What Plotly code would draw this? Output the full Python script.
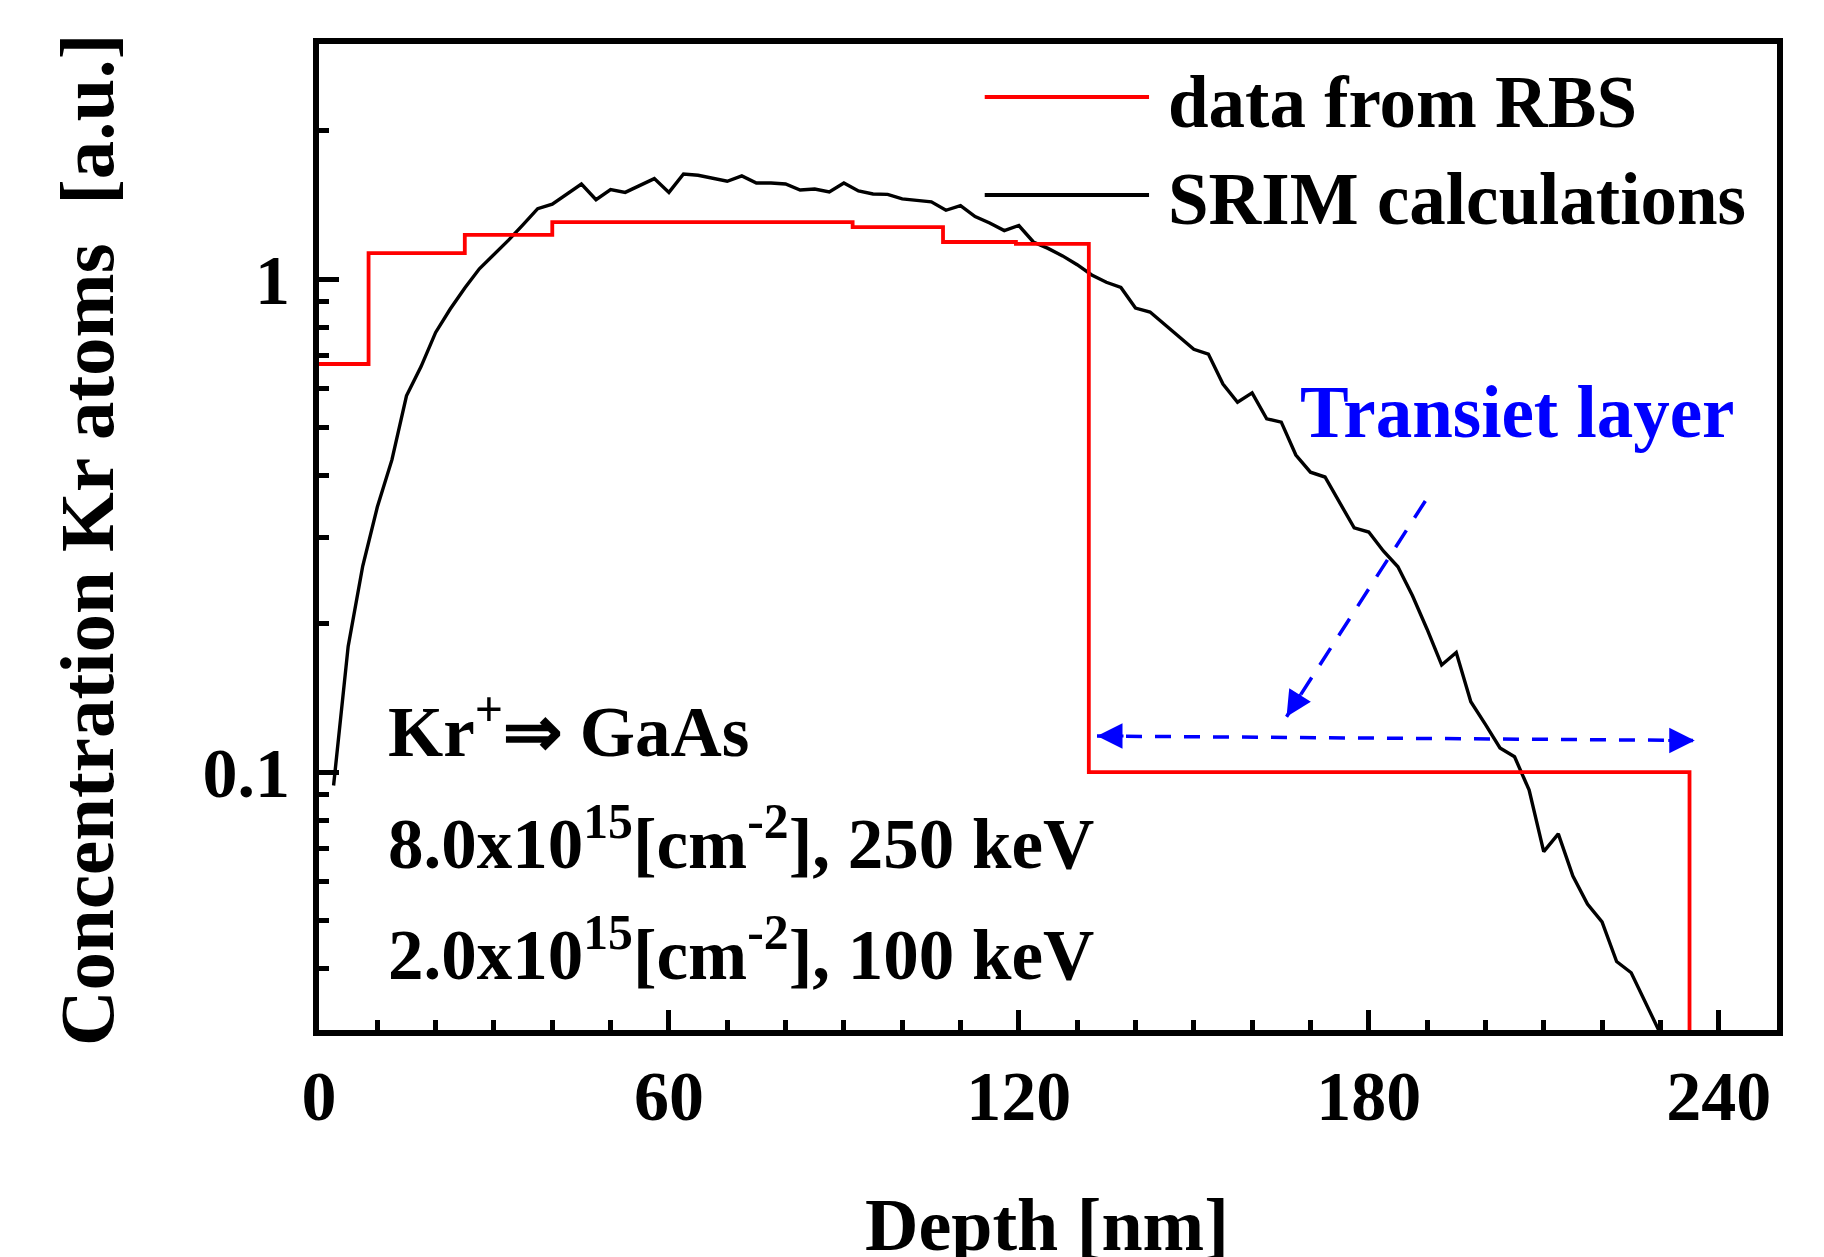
import numpy as np
import plotly.graph_objects as go

# ---------------- data ----------------
# SRIM calculated Kr depth profile
srim_depth = [2.5, 5, 7.5, 10, 12.5, 15, 17.5, 20, 22.5, 25, 27.5, 30, 32.5, 35, 37.5, 40,
              42.5, 45, 47.5, 50, 52.5, 55, 57.5, 60, 62.5, 65, 67.5, 70, 72.5, 75, 77.5, 80,
              82.5, 85, 87.5, 90, 92.5, 95, 97.5, 100, 102.5, 105, 107.5, 110, 112.5, 115,
              117.5, 120, 122.5, 125, 127.5, 130, 132.5, 135, 137.5, 140, 142.5, 145, 147.5,
              150, 152.5, 155, 157.5, 160, 162.5, 165, 167.5, 170, 172.5, 175, 177.5, 180,
              182.5, 185, 187.5, 190, 192.5, 195, 197.5, 200, 202.5, 205, 207.5, 210, 212.5,
              215, 217.5, 220, 222.5, 225, 227.5, 230]
srim_conc = [0.094, 0.18, 0.262, 0.345, 0.43, 0.58, 0.665, 0.78, 0.87, 0.96, 1.05, 1.12, 1.20,
             1.29, 1.39, 1.42, 1.49, 1.56, 1.45, 1.52, 1.50, 1.55, 1.60, 1.50, 1.635, 1.625,
             1.60, 1.58, 1.62, 1.567, 1.567, 1.56, 1.517, 1.524, 1.503, 1.567, 1.51, 1.489,
             1.486, 1.455, 1.445, 1.435, 1.38, 1.41, 1.34, 1.30, 1.255, 1.285, 1.19, 1.155,
             1.115, 1.07, 1.02, 0.986, 0.962, 0.874, 0.858, 0.81, 0.761, 0.721, 0.705, 0.613,
             0.563, 0.588, 0.521, 0.513, 0.44, 0.406, 0.397, 0.352, 0.313, 0.307, 0.281,
             0.261, 0.228, 0.195, 0.165, 0.175, 0.139, 0.125, 0.112, 0.1075, 0.092, 0.069,
             0.075, 0.0616, 0.054, 0.0497, 0.0413, 0.0392, 0.034, 0.0295]

# RBS step profile: layer boundaries and concentration in each layer
rbs_edges = [0, 8.5, 25, 40, 91.5, 107, 119.5, 132, 235]
rbs_conc = [0.673, 1.13, 1.23, 1.305, 1.276, 1.19, 1.18, 0.1]
rbs_floor = 0.01  # profile ends (drops out of the axis range)

# transient-layer arrows (depth, concentration)
arrow_h_x = [133.4, 235.9]
arrow_h_y = [0.1184, 0.116]
arrow_d_x = [189.7, 165.9]
arrow_d_y = [0.355, 0.1296]

x_ticks = [0, 60, 120, 180, 240]
x_minor = [v for v in range(10, 250, 10) if v % 60 != 0]
y_ticks = [0.1, 1]
y_ticktext = ["0.1", "1"]
y_minor = [0.04, 0.05, 0.06, 0.07, 0.08, 0.09, 0.2, 0.3, 0.4, 0.5, 0.6, 0.7, 0.8, 0.9, 2]

# ---------------- figure ----------------
FONT = "Liberation Serif, Times New Roman, serif"
BLUE = "#0000ff"

step_x = rbs_edges + [rbs_edges[-1]]
step_y = rbs_conc + [rbs_conc[-1], rbs_floor]

fig = go.Figure()
fig.add_trace(go.Scatter(x=srim_depth, y=srim_conc, mode="lines", name="SRIM calculations",
                         line=dict(color="black", width=3.4), showlegend=False))
fig.add_trace(go.Scatter(x=step_x, y=step_y, mode="lines", name="data from RBS",
                         line=dict(color="#ff0000", width=3.8, shape="hv"), showlegend=False))
fig.add_trace(go.Scatter(x=arrow_h_x, y=arrow_h_y, mode="lines", showlegend=False,
                         line=dict(color=BLUE, width=3.5, dash="16px,13px")))
fig.add_trace(go.Scatter(x=arrow_d_x, y=arrow_d_y, mode="lines", showlegend=False,
                         line=dict(color=BLUE, width=3.5, dash="20px,15px")))

ann = []
# arrow heads
head = dict(showarrow=True, arrowhead=2, arrowsize=1.7, arrowwidth=3, arrowcolor=BLUE,
            text="", xref="x", yref="y")
ann.append(dict(head, x=arrow_h_x[0], y=np.log10(arrow_h_y[0]), ax=28, ay=0))
ann.append(dict(head, x=arrow_h_x[1], y=np.log10(arrow_h_y[1]), ax=-28, ay=0))
ann.append(dict(head, x=arrow_d_x[1], y=np.log10(arrow_d_y[1]), ax=15, ay=-24))

tfont = dict(family=FONT, size=73, color="black", weight="bold")
sfont = dict(family=FONT, size=71, color="black", weight="bold")
ann.append(dict(text="data from RBS", x=145.3, y=0.358, xref="x", yref="y",
                xanchor="left", yanchor="middle", showarrow=False, font=tfont))
ann.append(dict(text="SRIM calculations", x=145.3, y=0.161, xref="x", yref="y",
                xanchor="left", yanchor="middle", showarrow=False, font=tfont))
ann.append(dict(text="Transiet layer", x=167.9, y=-0.2696, xref="x", yref="y",
                xanchor="left", yanchor="middle", showarrow=False,
                font=dict(tfont, color=BLUE)))
ann.append(dict(text="Kr<sup>+</sup>\u21d2 GaAs", x=11.6, y=-1.0004, xref="x", yref="y",
                xanchor="left", yanchor="bottom", showarrow=False, font=sfont, borderpad=0))
ann.append(dict(text="8.0x10<sup>15</sup>[cm<sup>-2</sup>], 250 keV", x=11.6, y=-1.2264,
                xref="x", yref="y", xanchor="left", yanchor="bottom", showarrow=False,
                font=sfont, borderpad=0))
ann.append(dict(text="2.0x10<sup>15</sup>[cm<sup>-2</sup>], 100 keV", x=11.6, y=-1.4523,
                xref="x", yref="y", xanchor="left", yanchor="bottom", showarrow=False,
                font=sfont, borderpad=0))
# axis titles
ann.append(dict(text="Depth [nm]", x=0.4993, y=-0.1978, xref="paper", yref="paper",
                xanchor="center", yanchor="middle", showarrow=False,
                font=dict(family=FONT, size=74, color="black", weight="bold")))
ann.append(dict(text="Concentration Kr atoms \u00a0[a.u.]", x=-0.1591, y=0.497,
                xref="paper", yref="paper", xanchor="center", yanchor="middle",
                textangle=-90, showarrow=False,
                font=dict(family=FONT, size=77, color="black", weight="bold")))

shapes = [
    dict(type="line", xref="paper", yref="paper", x0=0.4566, x1=0.5693, y0=0.9462, y1=0.9462,
         line=dict(color="#ff0000", width=4)),
    dict(type="line", xref="paper", yref="paper", x0=0.4566, x1=0.5693, y0=0.8469, y1=0.8469,
         line=dict(color="black", width=4)),
]

tickfont = dict(family=FONT, size=70, color="black", weight="bold")
fig.update_layout(
    width=1824, height=1257,
    margin=dict(l=319, r=47, t=44, b=227, autoexpand=False),
    paper_bgcolor="white", plot_bgcolor="white",
    annotations=ann, shapes=shapes, showlegend=False,
    xaxis=dict(range=[0, 250], tickmode="array", tickvals=x_ticks,
               ticks="inside", ticklen=20, tickwidth=5, tickcolor="black",
               showline=True, linewidth=6, linecolor="black", mirror=True,
               showgrid=False, zeroline=False, tickfont=tickfont, ticklabelstandoff=0,
               minor=dict(tickmode="array", tickvals=x_minor, ticks="inside", ticklen=10,
                          tickwidth=5, tickcolor="black", showgrid=False)),
    yaxis=dict(type="log", range=[np.log10(0.03), np.log10(3)], tickmode="array",
               tickvals=y_ticks, ticktext=y_ticktext,
               ticks="inside", ticklen=20, tickwidth=5, tickcolor="black",
               showline=True, linewidth=6, linecolor="black", mirror=True,
               showgrid=False, zeroline=False, tickfont=tickfont, ticklabelstandoff=9,
               minor=dict(tickmode="array", tickvals=y_minor, ticks="inside", ticklen=10,
                          tickwidth=5, tickcolor="black", showgrid=False)),
)

fig.write_html("out.html")
